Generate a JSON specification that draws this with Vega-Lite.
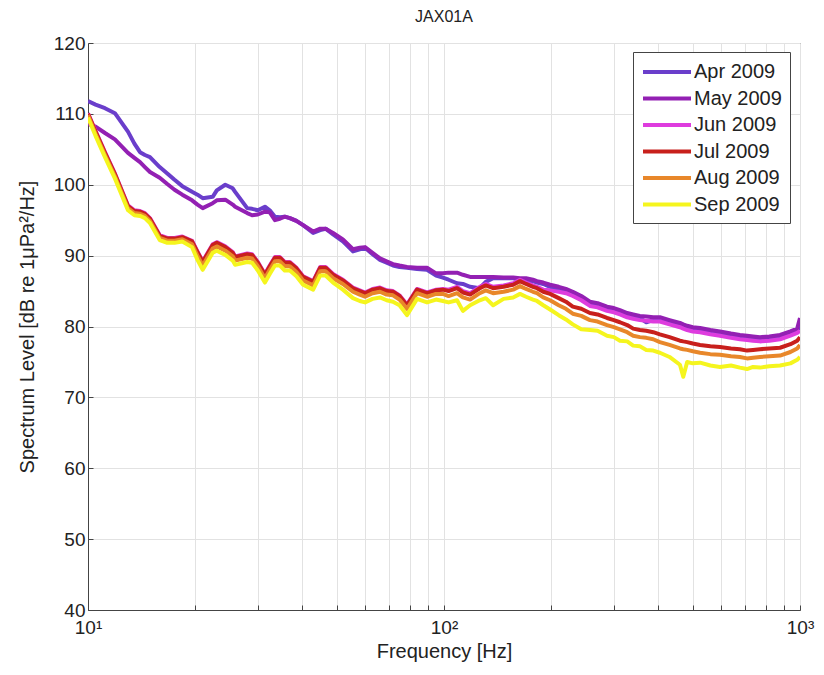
{
  "$schema": "https://vega.github.io/schema/vega-lite/v6.json",
  "width": 712,
  "height": 567,
  "autosize": {"type": "none"},
  "padding": {"left": 88, "top": 43, "right": 24, "bottom": 65},
  "background": "white",
  "config": {
    "font": "Liberation Sans",
    "view": {"stroke": "#444", "strokeWidth": 1}
  },
  "title": {"text": "JAX01A", "fontSize": 16, "fontWeight": "normal", "color": "#222", "offset": 9, "anchor": "middle"},
  "data": {"values": [
    {"f":10,"Apr":111.8,"May":108.6,"Jun":110.1,"Jul":110.0,"Aug":109.8,"Sep":109.5},
    {"f":10.5,"Apr":111.3,"May":108.2,"Jun":107.6,"Jul":107.5,"Aug":107.2,"Sep":106.9},
    {"f":11.16,"Apr":110.8,"May":107.3,"Jun":104.6,"Jul":104.5,"Aug":104.2,"Sep":103.9},
    {"f":11.9,"Apr":110.1,"May":106.4,"Jun":101.6,"Jul":101.5,"Aug":101.2,"Sep":100.9},
    {"f":12.95,"Apr":107.5,"May":104.5,"Jun":97.1,"Jul":97.0,"Aug":96.7,"Sep":96.4},
    {"f":13.5,"Apr":105.8,"May":103.8,"Jun":96.4,"Jul":96.3,"Aug":96.0,"Sep":95.7},
    {"f":14.0,"Apr":104.6,"May":103.2,"Jun":96.3,"Jul":96.2,"Aug":95.9,"Sep":95.6},
    {"f":14.45,"Apr":104.2,"May":102.5,"Jun":96.0,"Jul":95.9,"Aug":95.6,"Sep":95.3},
    {"f":14.93,"Apr":103.9,"May":101.8,"Jun":95.3,"Jul":95.2,"Aug":94.9,"Sep":94.6},
    {"f":15.9,"Apr":102.5,"May":101.0,"Jun":92.9,"Jul":92.8,"Aug":92.5,"Sep":92.2},
    {"f":16.7,"Apr":101.6,"May":100.1,"Jun":92.5,"Jul":92.4,"Aug":92.1,"Sep":91.8},
    {"f":17.5,"Apr":100.7,"May":99.3,"Jun":92.5,"Jul":92.4,"Aug":92.1,"Sep":91.8},
    {"f":18.4,"Apr":99.8,"May":98.6,"Jun":92.7,"Jul":92.6,"Aug":92.3,"Sep":92.0},
    {"f":19.6,"Apr":99.0,"May":97.8,"Jun":92.1,"Jul":92.0,"Aug":91.6,"Sep":91.2},
    {"f":20.3,"Apr":98.6,"May":97.2,"Jun":90.6,"Jul":90.5,"Aug":90.0,"Sep":89.4},
    {"f":21.0,"Apr":98.1,"May":96.7,"Jun":89.2,"Jul":89.1,"Aug":88.6,"Sep":88.0},
    {"f":22.4,"Apr":98.3,"May":97.4,"Jun":91.6,"Jul":91.5,"Aug":91.0,"Sep":90.4},
    {"f":23.0,"Apr":99.2,"May":97.8,"Jun":91.9,"Jul":91.8,"Aug":91.3,"Sep":90.7},
    {"f":24.3,"Apr":100.0,"May":97.9,"Jun":91.3,"Jul":91.2,"Aug":90.7,"Sep":90.1},
    {"f":25.5,"Apr":99.5,"May":97.2,"Jun":90.5,"Jul":90.4,"Aug":89.9,"Sep":89.3},
    {"f":25.9,"Apr":99.0,"May":96.9,"Jun":89.9,"Jul":89.8,"Aug":89.3,"Sep":88.7},
    {"f":28.0,"Apr":96.7,"May":96.0,"Jun":90.3,"Jul":90.2,"Aug":89.7,"Sep":89.1},
    {"f":28.9,"Apr":96.6,"May":95.7,"Jun":90.2,"Jul":90.1,"Aug":89.6,"Sep":89.0},
    {"f":30.0,"Apr":96.4,"May":95.8,"Jun":89.1,"Jul":89.0,"Aug":88.5,"Sep":87.9},
    {"f":31.4,"Apr":96.9,"May":96.2,"Jun":87.4,"Jul":87.3,"Aug":86.8,"Sep":86.2},
    {"f":32.4,"Apr":96.4,"May":96.1,"Jun":88.6,"Jul":88.5,"Aug":88.0,"Sep":87.4},
    {"f":33.5,"Apr":95.5,"May":95.0,"Jun":89.8,"Jul":89.7,"Aug":89.2,"Sep":88.6},
    {"f":34.6,"Apr":95.4,"May":95.2,"Jun":89.8,"Jul":89.7,"Aug":89.2,"Sep":88.6},
    {"f":35.7,"Apr":95.5,"May":95.5,"Jun":89.1,"Jul":89.0,"Aug":88.5,"Sep":87.9},
    {"f":36.9,"Apr":95.3,"May":95.3,"Jun":89.1,"Jul":89.0,"Aug":88.5,"Sep":87.9},
    {"f":38.5,"Apr":94.9,"May":94.9,"Jun":88.3,"Jul":88.2,"Aug":87.7,"Sep":87.1},
    {"f":40.2,"Apr":94.3,"May":94.3,"Jun":87.1,"Jul":87.0,"Aug":86.5,"Sep":85.9},
    {"f":42.9,"Apr":93.2,"May":93.4,"Jun":86.4,"Jul":86.3,"Aug":85.8,"Sep":85.2},
    {"f":44.9,"Apr":93.6,"May":93.8,"Jun":88.4,"Jul":88.3,"Aug":87.8,"Sep":87.2},
    {"f":46.5,"Apr":93.8,"May":93.8,"Jun":88.4,"Jul":88.3,"Aug":87.8,"Sep":87.2},
    {"f":48.8,"Apr":93.0,"May":93.2,"Jun":87.4,"Jul":87.3,"Aug":86.8,"Sep":86.2},
    {"f":52,"Apr":92.0,"May":92.3,"Jun":86.6,"Jul":86.5,"Aug":86.0,"Sep":85.2},
    {"f":55.5,"Apr":90.6,"May":90.9,"Jun":85.5,"Jul":85.4,"Aug":84.9,"Sep":84.0},
    {"f":58,"Apr":90.9,"May":91.1,"Jun":85.1,"Jul":85.0,"Aug":84.5,"Sep":83.6},
    {"f":60,"Apr":91.1,"May":91.2,"Jun":84.8,"Jul":84.7,"Aug":84.2,"Sep":83.4},
    {"f":63,"Apr":90.2,"May":90.4,"Jun":85.3,"Jul":85.2,"Aug":84.7,"Sep":83.9},
    {"f":66.1,"Apr":89.4,"May":89.6,"Jun":85.5,"Jul":85.4,"Aug":84.9,"Sep":84.1},
    {"f":69,"Apr":89.0,"May":89.2,"Jun":85.1,"Jul":85.0,"Aug":84.5,"Sep":83.7},
    {"f":71.9,"Apr":88.6,"May":88.8,"Jun":85.0,"Jul":84.9,"Aug":84.4,"Sep":83.5},
    {"f":75,"Apr":88.4,"May":88.6,"Jun":84.4,"Jul":84.3,"Aug":83.8,"Sep":83.0},
    {"f":78.7,"Apr":88.3,"May":88.4,"Jun":83.1,"Jul":83.0,"Aug":82.5,"Sep":81.6},
    {"f":84.0,"Apr":88.1,"May":88.3,"Jun":85.3,"Jul":85.2,"Aug":84.7,"Sep":83.9},
    {"f":89.6,"Apr":88.0,"May":88.3,"Jun":84.8,"Jul":84.7,"Aug":84.2,"Sep":83.4},
    {"f":95,"Apr":87.2,"May":87.5,"Jun":85.2,"Jul":85.1,"Aug":84.6,"Sep":83.8},
    {"f":99.3,"Apr":86.9,"May":87.5,"Jun":85.3,"Jul":85.2,"Aug":84.6,"Sep":83.6},
    {"f":103,"Apr":86.6,"May":87.6,"Jun":85.2,"Jul":85.0,"Aug":84.3,"Sep":83.4},
    {"f":108.8,"Apr":86.1,"May":87.6,"Jun":85.6,"Jul":85.4,"Aug":84.7,"Sep":83.7},
    {"f":113,"Apr":86.0,"May":87.3,"Jun":85.0,"Jul":84.8,"Aug":84.1,"Sep":82.2},
    {"f":118.4,"Apr":85.6,"May":87.0,"Jun":84.7,"Jul":84.5,"Aug":83.8,"Sep":83.0},
    {"f":126,"Apr":85.4,"May":87.0,"Jun":85.6,"Jul":85.4,"Aug":84.7,"Sep":83.7},
    {"f":131,"Apr":86.3,"May":87.0,"Jun":86.0,"Jul":85.8,"Aug":85.1,"Sep":84.0},
    {"f":137.4,"Apr":86.8,"May":87.0,"Jun":85.6,"Jul":85.4,"Aug":84.7,"Sep":83.0},
    {"f":147,"Apr":86.8,"May":86.9,"Jun":85.8,"Jul":85.6,"Aug":84.9,"Sep":83.9},
    {"f":156.4,"Apr":86.8,"May":86.9,"Jun":86.1,"Jul":85.9,"Aug":85.2,"Sep":84.1},
    {"f":163.5,"Apr":86.6,"May":86.8,"Jun":86.6,"Jul":86.4,"Aug":85.7,"Sep":84.6},
    {"f":170,"Apr":86.4,"May":86.8,"Jun":86.2,"Jul":86.0,"Aug":85.3,"Sep":84.2},
    {"f":177.8,"Apr":86.4,"May":86.6,"Jun":85.8,"Jul":85.6,"Aug":84.9,"Sep":83.8},
    {"f":182.5,"Apr":86.2,"May":86.4,"Jun":85.6,"Jul":85.4,"Aug":84.7,"Sep":83.6},
    {"f":190,"Apr":86.0,"May":86.2,"Jun":85.2,"Jul":84.9,"Aug":84.1,"Sep":83.0},
    {"f":198.6,"Apr":85.6,"May":85.9,"Jun":85.1,"Jul":84.6,"Aug":83.7,"Sep":82.4},
    {"f":210,"Apr":85.2,"May":85.6,"Jun":84.9,"Jul":84.0,"Aug":83.0,"Sep":81.6},
    {"f":220,"Apr":85.0,"May":85.3,"Jun":84.7,"Jul":83.5,"Aug":82.5,"Sep":81.0},
    {"f":230,"Apr":84.6,"May":84.9,"Jun":84.3,"Jul":82.8,"Aug":81.8,"Sep":80.3},
    {"f":243,"Apr":84.0,"May":84.3,"Jun":83.7,"Jul":82.5,"Aug":81.5,"Sep":79.6},
    {"f":257,"Apr":83.2,"May":83.5,"Jun":82.9,"Jul":81.9,"Aug":80.9,"Sep":79.5},
    {"f":270,"Apr":83.0,"May":83.3,"Jun":82.7,"Jul":81.7,"Aug":80.7,"Sep":79.4},
    {"f":287,"Apr":82.6,"May":82.8,"Jun":82.2,"Jul":81.2,"Aug":80.2,"Sep":78.7},
    {"f":300,"Apr":82.4,"May":82.6,"Jun":82.0,"Jul":80.9,"Aug":79.9,"Sep":78.5},
    {"f":312,"Apr":82.0,"May":82.3,"Jun":81.7,"Jul":80.6,"Aug":79.6,"Sep":78.0},
    {"f":327,"Apr":81.7,"May":81.9,"Jun":81.3,"Jul":80.2,"Aug":79.2,"Sep":77.9},
    {"f":340,"Apr":81.4,"May":81.7,"Jun":81.1,"Jul":79.7,"Aug":78.7,"Sep":77.3},
    {"f":355,"Apr":81.2,"May":81.5,"Jun":80.9,"Jul":79.5,"Aug":78.5,"Sep":77.2},
    {"f":370,"Apr":80.6,"May":81.4,"Jun":80.8,"Jul":79.4,"Aug":78.4,"Sep":76.7},
    {"f":387,"Apr":80.9,"May":81.3,"Jun":80.7,"Jul":79.2,"Aug":78.2,"Sep":76.6},
    {"f":404,"Apr":80.8,"May":81.3,"Jun":80.7,"Jul":78.9,"Aug":77.8,"Sep":76.3},
    {"f":430,"Apr":80.5,"May":80.9,"Jun":80.3,"Jul":78.5,"Aug":77.4,"Sep":75.7},
    {"f":460,"Apr":80.2,"May":80.5,"Jun":79.9,"Jul":78.0,"Aug":76.9,"Sep":74.6},
    {"f":470,"Apr":80.0,"May":80.3,"Jun":79.7,"Jul":77.9,"Aug":76.8,"Sep":72.9},
    {"f":482,"Apr":79.7,"May":80.1,"Jun":79.5,"Jul":77.8,"Aug":76.7,"Sep":75.0},
    {"f":500,"Apr":79.6,"May":79.9,"Jun":79.3,"Jul":77.6,"Aug":76.5,"Sep":74.8},
    {"f":524,"Apr":79.4,"May":79.8,"Jun":79.2,"Jul":77.4,"Aug":76.3,"Sep":74.9},
    {"f":560,"Apr":79.1,"May":79.5,"Jun":78.9,"Jul":77.2,"Aug":76.1,"Sep":74.5},
    {"f":596,"Apr":78.9,"May":79.3,"Jun":78.7,"Jul":77.1,"Aug":76.0,"Sep":74.3},
    {"f":640,"Apr":78.6,"May":79.0,"Jun":78.4,"Jul":76.9,"Aug":75.8,"Sep":74.5},
    {"f":678,"Apr":78.4,"May":78.8,"Jun":78.2,"Jul":76.8,"Aug":75.7,"Sep":74.2},
    {"f":710,"Apr":78.3,"May":78.7,"Jun":78.1,"Jul":76.6,"Aug":75.5,"Sep":74.0},
    {"f":738,"Apr":78.3,"May":78.6,"Jun":78.0,"Jul":76.7,"Aug":75.6,"Sep":74.3},
    {"f":772,"Apr":78.3,"May":78.5,"Jun":77.9,"Jul":76.8,"Aug":75.7,"Sep":74.2},
    {"f":820,"Apr":78.4,"May":78.6,"Jun":78.0,"Jul":76.9,"Aug":75.8,"Sep":74.4},
    {"f":879,"Apr":78.6,"May":78.8,"Jun":78.2,"Jul":77.0,"Aug":75.9,"Sep":74.5},
    {"f":940,"Apr":79.0,"May":79.3,"Jun":78.7,"Jul":77.5,"Aug":76.4,"Sep":74.8},
    {"f":982,"Apr":79.5,"May":79.7,"Jun":79.1,"Jul":78.0,"Aug":76.9,"Sep":75.3},
    {"f":1000,"Apr":80.0,"May":81.2,"Jun":79.4,"Jul":78.5,"Aug":77.4,"Sep":75.7}
  ]},
  "transform": [
    {"fold": ["Apr", "May", "Jun", "Jul", "Aug", "Sep"], "as": ["month", "level"]}
  ],
  "mark": {"type": "line", "strokeWidth": 4, "clip": true, "strokeJoin": "round"},
  "encoding": {
    "x": {
      "field": "f", "type": "quantitative",
      "scale": {"type": "log", "domain": [10, 1000], "nice": false},
      "axis": {
        "title": "Frequency [Hz]", "titleFontSize": 20, "titleFontWeight": "normal", "titleColor": "#222", "titlePadding": 4,
        "values": [10,20,30,40,50,60,70,80,90,100,200,300,400,500,600,700,800,900,1000],
        "labelExpr": "datum.value == 10 ? '10¹' : datum.value == 100 ? '10²' : datum.value == 1000 ? '10³' : ''",
        "labelFontSize": 19, "labelColor": "#222", "labelPadding": 13, "labelFlush": false,
        "grid": true, "gridColor": "#e2e2e2", "gridWidth": 1,
        "tickSize": -5, "tickColor": "#444", "domainColor": "#444"
      }
    },
    "y": {
      "field": "level", "type": "quantitative",
      "scale": {"domain": [40, 120], "nice": false, "zero": false},
      "axis": {
        "title": "Spectrum Level [dB re 1μPa²/Hz]", "titleFontSize": 20, "titleFontWeight": "normal", "titleColor": "#222", "titlePadding": 16,
        "values": [40,50,60,70,80,90,100,110,120],
        "labelFontSize": 19, "labelColor": "#222", "labelPadding": 8,
        "grid": true, "gridColor": "#e2e2e2", "gridWidth": 1,
        "tickSize": -5, "tickColor": "#444", "domainColor": "#444"
      }
    },
    "color": {
      "field": "month", "type": "nominal",
      "scale": {"domain": ["Apr", "May", "Jun", "Jul", "Aug", "Sep"], "range": ["#6A3ECB", "#9320B3", "#DE3CDE", "#C8201C", "#E8872A", "#F5F51E"]},
      "legend": {
        "title": null, "orient": "none", "legendX": 545, "legendY": 9,
        "labelExpr": "datum.label + ' 2009'",
        "labelFontSize": 20, "labelColor": "#222",
        "symbolType": "M-2.4,0H2.4", "symbolSize": 400, "symbolStrokeWidth": 4, "symbolOffset": 14,
        "labelOffset": 15, "rowPadding": 4.5,
        "padding": 8, "strokeColor": "#444", "fillColor": "white"
      }
    },
    "order": {"field": "f", "type": "quantitative"}
  }
}
